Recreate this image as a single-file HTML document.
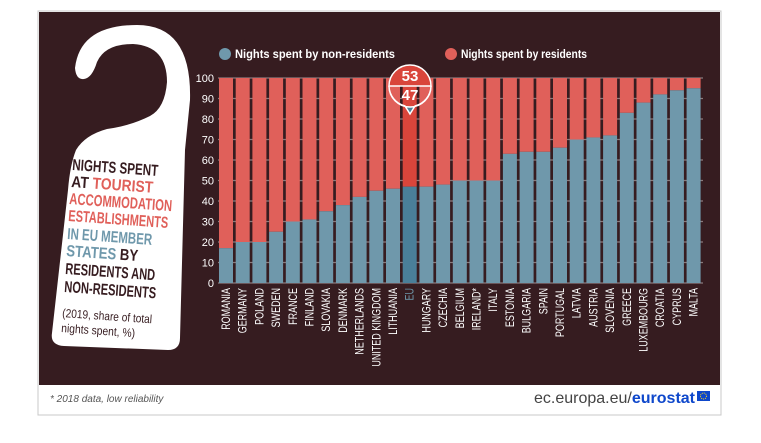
<!DOCTYPE html>
<html><head><meta charset="utf-8"><style>
html,body{margin:0;padding:0;background:#fff;}
svg{display:block;font-family:"Liberation Sans",sans-serif;}
</style></head><body>
<svg width="761" height="443" viewBox="0 0 761 443">
<rect x="38" y="11" width="683" height="404" fill="#fff" stroke="#c8c8c8" stroke-width="1"/>
<rect x="39" y="12" width="681" height="373" fill="#361c20"/>
<g>
<path d="M52 333 Q50 345 64 346 L168 350 Q180 350 180 338 L185 150 L190 100 Q192 25 137 25 Q80 25 75 68 Q76 80 84 79 Q92 78 97 62 Q105 44 133 44 Q167 46 167 82 Q165 108 150 116 Q130 126 107 129 Q85 135 76 150 Q70 165 68 190 Z" fill="#fff"/>
<g font-weight="bold" font-size="16">
<text x="72" y="170" transform="rotate(4 72 170)" textLength="86" lengthAdjust="spacingAndGlyphs" fill="#361c20">NIGHTS SPENT</text>
<text x="71" y="187" transform="rotate(4 71 187)" textLength="82" lengthAdjust="spacingAndGlyphs"><tspan fill="#361c20">AT </tspan><tspan fill="#e0605a">TOURIST</tspan></text>
<text x="69" y="204" transform="rotate(4 69 204)" textLength="103" lengthAdjust="spacingAndGlyphs" fill="#e0605a">ACCOMMODATION</text>
<text x="68" y="221" transform="rotate(4 68 221)" textLength="100" lengthAdjust="spacingAndGlyphs" fill="#e0605a">ESTABLISHMENTS</text>
<text x="67" y="239" transform="rotate(4 67 239)" textLength="85" lengthAdjust="spacingAndGlyphs" fill="#6f98ab">IN EU MEMBER</text>
<text x="66" y="256" transform="rotate(4 66 256)" textLength="72" lengthAdjust="spacingAndGlyphs"><tspan fill="#6f98ab">STATES </tspan><tspan fill="#361c20">BY</tspan></text>
<text x="65" y="274" transform="rotate(4 65 274)" textLength="90" lengthAdjust="spacingAndGlyphs" fill="#361c20">RESIDENTS AND</text>
<text x="64" y="292" transform="rotate(4 64 292)" textLength="92" lengthAdjust="spacingAndGlyphs" fill="#361c20">NON-RESIDENTS</text>
<text x="62" y="317" transform="rotate(4 62 317)" font-weight="normal" font-size="12" textLength="90" lengthAdjust="spacingAndGlyphs" fill="#361c20">(2019, share of total</text>
<text x="61" y="332" transform="rotate(4 61 332)" font-weight="normal" font-size="12" textLength="74" lengthAdjust="spacingAndGlyphs" fill="#361c20">nights spent, %)</text>
</g>
</g>
<g>
<circle cx="225" cy="54" r="6" fill="#6f98ab"/>
<text x="235" y="58" font-size="12" font-weight="bold" fill="#fff" textLength="160" lengthAdjust="spacingAndGlyphs">Nights spent by non-residents</text>
<circle cx="451" cy="54" r="6" fill="#e0605a"/>
<text x="461" y="58" font-size="12" font-weight="bold" fill="#fff" textLength="126" lengthAdjust="spacingAndGlyphs">Nights spent by residents</text>
</g>
<g id="chart"></g>
<g>
<path d="M389 86 A21 21 0 0 0 431 86 A21 21 0 0 1 415 106 L410 114 L405 106 A21 21 0 0 1 389 86Z" fill="#4a7f99" stroke="#fff" stroke-width="1.5"/>
<path d="M389 86 A21 21 0 0 1 431 86 Z" fill="#d9453b" stroke="#fff" stroke-width="1.5"/>
<text id="eu-res" x="410" y="81" text-anchor="middle" font-size="15" font-weight="bold" fill="#fff">53</text>
<text id="eu-non" x="410" y="100" text-anchor="middle" font-size="15" font-weight="bold" fill="#fff">47</text>
</g>
<text x="50" y="402" font-size="10" font-style="italic" fill="#555">* 2018 data, low reliability</text>
<text x="695" y="403" font-size="16" text-anchor="end" fill="#444">ec.europa.eu/<tspan font-weight="bold" fill="#0e47cb">eurostat</tspan></text>
<rect x="697" y="391" width="13" height="10" fill="#0e47cb"/>
<circle cx="703.5" cy="396" r="3" fill="none" stroke="#ffd617" stroke-width="1" stroke-dasharray="1 1"/>
</svg>
<script>
const categories=["ROMANIA","GERMANY","POLAND","SWEDEN","FRANCE","FINLAND","SLOVAKIA","DENMARK","NETHERLANDS","UNITED KINGDOM","LITHUANIA","EU","HUNGARY","CZECHIA","BELGIUM","IRELAND*","ITALY","ESTONIA","BULGARIA","SPAIN","PORTUGAL","LATVIA","AUSTRIA","SLOVENIA","GREECE","LUXEMBOURG","CROATIA","CYPRUS","MALTA"];
const nonResidents=[17,20,20,25,30,31,35,38,42,45,46,47,47,48,50,50,50,63,64,64,66,70,71,72,83,88,92,94,95];
const yTicks=[0,10,20,30,40,50,60,70,80,90,100];
const NS="http://www.w3.org/2000/svg";
const g=document.getElementById("chart");
const y0=283,y1=78,xFirst=226,step=16.7,bw=14;
const yS=v=>y0-(v/100)*(y0-y1);
const xS=i=>xFirst+i*step;
function mk(t,a){const e=document.createElementNS(NS,t);for(const k in a)e.setAttribute(k,a[k]);g.appendChild(e);return e;}
yTicks.forEach(t=>{
  const l=mk("line",{x1:218,x2:703,y1:yS(t),y2:yS(t),stroke:"#8a7a7c","stroke-width":1.2});
  
  
  const tx=mk("text",{x:214,y:yS(t)+4,"text-anchor":"end","font-size":"11",fill:"#fff"});
  tx.textContent=t;
  
  
});
categories.forEach((c,i)=>{
  const v=nonResidents[i],eu=c==="EU";
  const x=xS(i)-bw/2;
  const r=mk("rect",{x:x,y:yS(100),width:bw,height:yS(v)-yS(100),fill:eu?"#d9453b":"#e0605a"});
  
  
  const b=mk("rect",{x:x,y:yS(v),width:bw,height:y0-yS(v),fill:eu?"#4a7f99":"#6f98ab"});
  
  
  const t=mk("text",{transform:`translate(${xS(i)+4},288) rotate(-90) scale(0.78,1)`,"text-anchor":"end","font-size":"11.5",fill:eu?"#6f98ab":"#fff"});
  t.textContent=c;
  
  
});
const euI=categories.indexOf("EU");
document.getElementById("eu-non").textContent=nonResidents[euI];
document.getElementById("eu-res").textContent=100-nonResidents[euI];
</script>
</body></html>
